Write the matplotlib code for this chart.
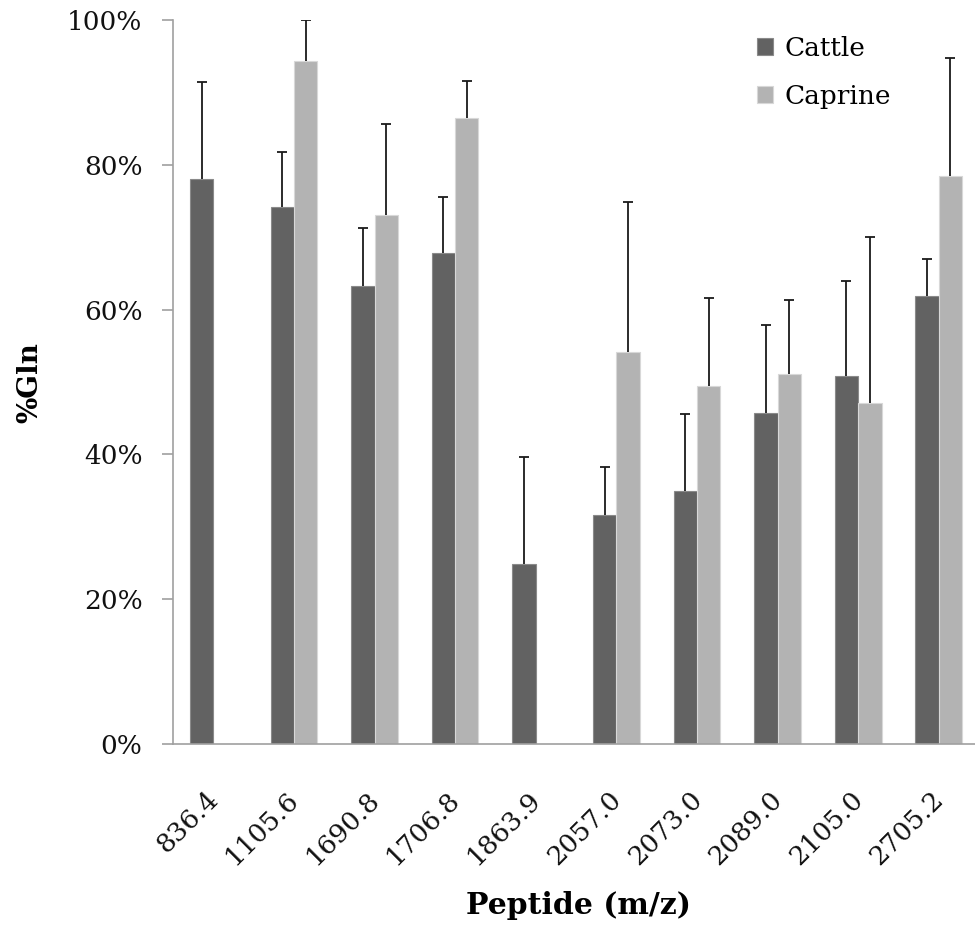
import matplotlib
matplotlib.use("Agg")
import matplotlib.pyplot as plt
import matplotlib.transforms as mtransforms
import numpy as np
from matplotlib.ticker import FuncFormatter

peptides = ["836.4", "1105.6", "1690.8", "1706.8", "1863.9",
            "2057.0", "2073.0", "2089.0", "2105.0", "2705.2"]
cattle = [78.1, 74.2, 63.3, 67.8, 24.8, 31.6, 34.9, 45.7, 50.8, 61.9]
cattle_err = [13.3, 7.6, 8.0, 7.8, 14.8, 6.6, 10.7, 12.2, 13.2, 5.1]
caprine = [np.nan, 94.3, 73.0, 86.5, np.nan, 54.2, 49.4, 51.1, 47.1, 78.4]
caprine_err = [np.nan, 5.7, 12.7, 5.1, np.nan, 20.6, 12.2, 10.2, 22.9, 16.3]

plt.rcParams['font.family'] = ['DejaVu Serif']

fig = plt.figure(figsize=(9.75, 9.25), dpi=100)
ax = fig.add_axes([173 / 975, 1 - 744 / 925, 1 - 173 / 975, (744 - 20) / 925])

x = np.arange(len(peptides))
w = 0.29
cattle_col = "#626262"
caprine_col = "#b3b3b3"

ax.bar(x - w / 2, cattle, w, color=cattle_col, edgecolor="#8a8a8a", linewidth=0.8, label="Cattle")
ax.bar(x + w / 2, caprine, w, color=caprine_col, edgecolor="#d8d8d8", linewidth=0.8, label="Caprine")


def up_errors(xs, ys, errs):
    errs = np.array(errs)
    _, caps, _ = ax.errorbar(xs, ys, yerr=[np.zeros_like(errs), errs], fmt="none",
                             ecolor="#1a1a1a", elinewidth=1.3, capsize=3.6, capthick=1.3)
    # only the upper cap, like the original
    caps[0].set_visible(False)


up_errors(x - w / 2, cattle, cattle_err)
up_errors(x + w / 2, caprine, caprine_err)

ax.set_ylim(0, 100)
ax.set_xlim(-0.5, 9.45)
ax.set_yticks(np.arange(0, 101, 20))
ax.yaxis.set_major_formatter(FuncFormatter(lambda v, p: "%d%%" % v))
ax.tick_params(axis="y", direction="out", length=8, width=1.2, color="#a0a0a0",
               pad=14, labelsize=19, labelcolor="#111111")
ax.tick_params(axis="x", length=0, pad=37, labelsize=19, labelcolor="#111111")

ax.set_xticks(x)
ax.set_xticklabels(peptides, rotation=45, ha="right", va="center", rotation_mode="anchor")
offset = mtransforms.ScaledTranslation(1 / 100, 0, fig.dpi_scale_trans)
for lab in ax.get_xticklabels():
    lab.set_transform(lab.get_transform() + offset)

for s in ["top", "right"]:
    ax.spines[s].set_visible(False)
for s in ["left", "bottom"]:
    ax.spines[s].set_color("#a0a0a0")
    ax.spines[s].set_linewidth(1.2)

fig.text(30 / 975, 1 - 383 / 925, "%Gln", rotation=90, ha="center", va="center",
         fontsize=20, fontweight="bold")
fig.text(578 / 975, 1 - 906 / 925, "Peptide (m/z)", ha="center", va="center",
         fontsize=21.5, fontweight="bold")

leg = ax.legend(loc="upper left", bbox_to_anchor=(733 / 975, 1 - 12 / 925),
                bbox_transform=fig.transFigure, frameon=False, fontsize=19,
                handlelength=0.62, handleheight=0.62, handletextpad=0.45, labelspacing=0.88)

fig.savefig("out.png", dpi=100)
